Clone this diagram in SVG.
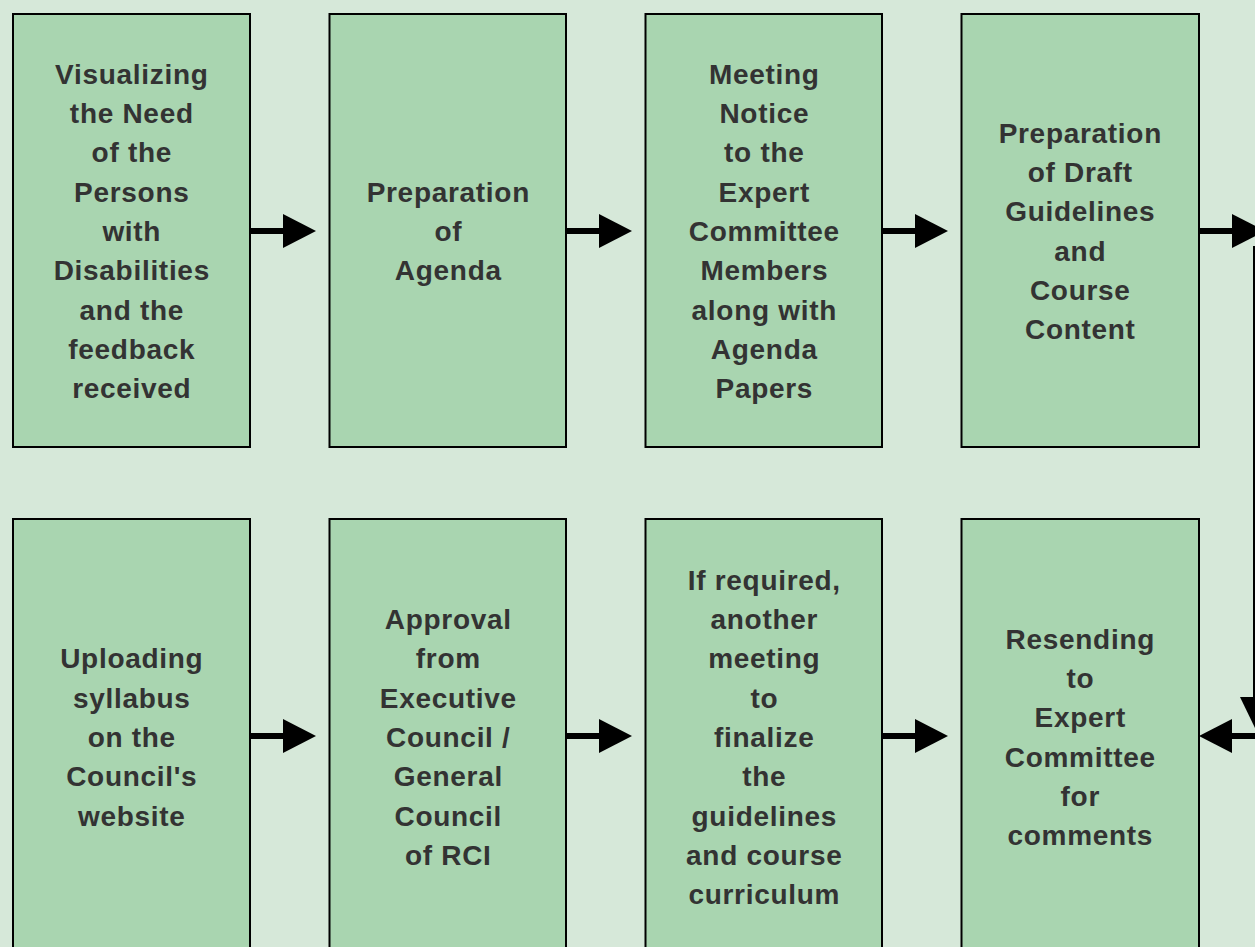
<svg xmlns="http://www.w3.org/2000/svg" width="1255" height="947" viewBox="0 0 1255 947">
<style>
.box{fill:#a9d5b0;stroke:#000;stroke-width:2}
.lbl{font-family:"Liberation Sans",Arial,sans-serif;font-weight:bold;font-size:28px;letter-spacing:0.7px;fill:#333;text-anchor:middle}
.ln{stroke:#000;stroke-width:6;fill:none}
.thin{stroke:#000;stroke-width:2;fill:none}
.ah{fill:#000}
</style>
<rect x="0" y="0" width="1255" height="947" fill="#d6e8d9"/>
<g id="connectors">
<line class="ln" x1="250" y1="231" x2="284" y2="231"/><polygon class="ah" points="283,214 316,231 283,248"/>
<line class="ln" x1="566" y1="231" x2="600" y2="231"/><polygon class="ah" points="599,214 632,231 599,248"/>
<line class="ln" x1="882" y1="231" x2="916" y2="231"/><polygon class="ah" points="915,214 948,231 915,248"/>
<line class="ln" x1="1199" y1="231" x2="1233" y2="231"/><polygon class="ah" points="1232,214 1265,231 1232,248"/>
<line class="thin" x1="1254" y1="246" x2="1254" y2="698"/><polygon class="ah" points="1240,697 1270,697 1255,728"/>
<line class="ln" x1="250" y1="736" x2="284" y2="736"/><polygon class="ah" points="283,719 316,736 283,753"/>
<line class="ln" x1="566" y1="736" x2="600" y2="736"/><polygon class="ah" points="599,719 632,736 599,753"/>
<line class="ln" x1="882" y1="736" x2="916" y2="736"/><polygon class="ah" points="915,719 948,736 915,753"/>
<line class="ln" x1="1230" y1="736" x2="1256" y2="736"/><polygon class="ah" points="1232,719 1199,736 1232,753"/>
</g>
<g id="n1"><rect class="box" x="13" y="14" width="237" height="433"/>
<text class="lbl" y="83.8"><tspan x="131.8">Visualizing</tspan><tspan x="131.8" dy="39.3">the Need</tspan><tspan x="131.8" dy="39.3">of the</tspan><tspan x="131.8" dy="39.3">Persons</tspan><tspan x="131.8" dy="39.3">with</tspan><tspan x="131.8" dy="39.3">Disabilities</tspan><tspan x="131.8" dy="39.3">and the</tspan><tspan x="131.8" dy="39.3">feedback</tspan><tspan x="131.8" dy="39.3">received</tspan></text></g>
<g id="n2"><rect class="box" x="329.5" y="14" width="236.5" height="433"/>
<text class="lbl" y="201.7"><tspan x="448.3">Preparation</tspan><tspan x="448.3" dy="39.3">of</tspan><tspan x="448.3" dy="39.3">Agenda</tspan></text></g>
<g id="n3"><rect class="box" x="645.5" y="14" width="236.5" height="433"/>
<text class="lbl" y="83.8"><tspan x="764.3">Meeting</tspan><tspan x="764.3" dy="39.3">Notice</tspan><tspan x="764.3" dy="39.3">to the</tspan><tspan x="764.3" dy="39.3">Expert</tspan><tspan x="764.3" dy="39.3">Committee</tspan><tspan x="764.3" dy="39.3">Members</tspan><tspan x="764.3" dy="39.3">along with</tspan><tspan x="764.3" dy="39.3">Agenda</tspan><tspan x="764.3" dy="39.3">Papers</tspan></text></g>
<g id="n4"><rect class="box" x="961.5" y="14" width="237.5" height="433"/>
<text class="lbl" y="142.75"><tspan x="1080.3">Preparation</tspan><tspan x="1080.3" dy="39.3">of Draft</tspan><tspan x="1080.3" dy="39.3">Guidelines</tspan><tspan x="1080.3" dy="39.3">and</tspan><tspan x="1080.3" dy="39.3">Course</tspan><tspan x="1080.3" dy="39.3">Content</tspan></text></g>
<g id="n5"><rect class="box" x="13" y="519" width="237" height="440"/>
<text class="lbl" y="668.4"><tspan x="131.8">Uploading</tspan><tspan x="131.8" dy="39.3">syllabus</tspan><tspan x="131.8" dy="39.3">on the</tspan><tspan x="131.8" dy="39.3">Council's</tspan><tspan x="131.8" dy="39.3">website</tspan></text></g>
<g id="n6"><rect class="box" x="329.5" y="519" width="236.5" height="440"/>
<text class="lbl" y="629.1"><tspan x="448.3">Approval</tspan><tspan x="448.3" dy="39.3">from</tspan><tspan x="448.3" dy="39.3">Executive</tspan><tspan x="448.3" dy="39.3">Council /</tspan><tspan x="448.3" dy="39.3">General</tspan><tspan x="448.3" dy="39.3">Council</tspan><tspan x="448.3" dy="39.3">of RCI</tspan></text></g>
<g id="n7"><rect class="box" x="645.5" y="519" width="236.5" height="440"/>
<text class="lbl" y="589.8"><tspan x="764.3">If required,</tspan><tspan x="764.3" dy="39.3">another</tspan><tspan x="764.3" dy="39.3">meeting</tspan><tspan x="764.3" dy="39.3">to</tspan><tspan x="764.3" dy="39.3">finalize</tspan><tspan x="764.3" dy="39.3">the</tspan><tspan x="764.3" dy="39.3">guidelines</tspan><tspan x="764.3" dy="39.3">and course</tspan><tspan x="764.3" dy="39.3">curriculum</tspan></text></g>
<g id="n8"><rect class="box" x="961.5" y="519" width="237.5" height="440"/>
<text class="lbl" y="648.75"><tspan x="1080.3">Resending</tspan><tspan x="1080.3" dy="39.3">to</tspan><tspan x="1080.3" dy="39.3">Expert</tspan><tspan x="1080.3" dy="39.3">Committee</tspan><tspan x="1080.3" dy="39.3">for</tspan><tspan x="1080.3" dy="39.3">comments</tspan></text></g>
</svg>
